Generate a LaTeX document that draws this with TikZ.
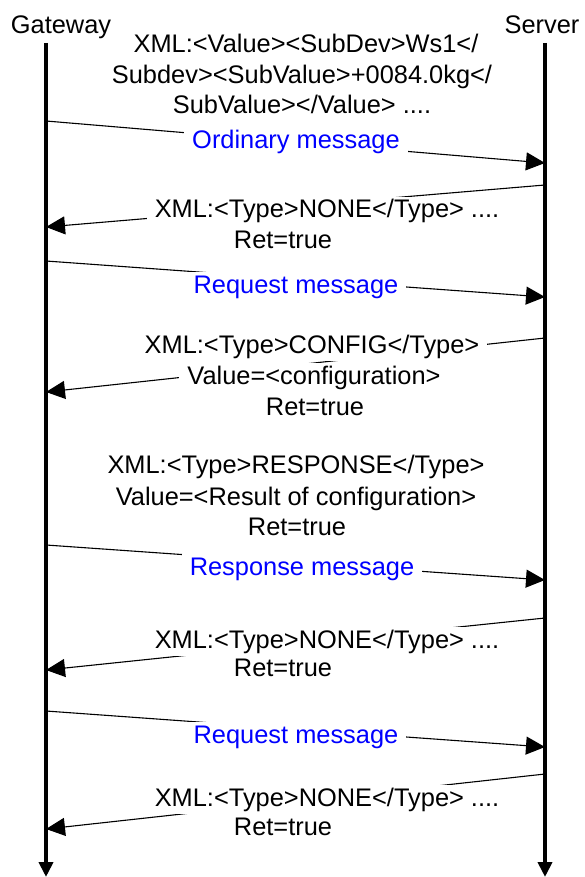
\documentclass[tikz,border=0pt]{standalone}
\usepackage{fontspec}
\setmainfont{Liberation Sans}
\usetikzlibrary{arrows.meta}
\newcommand\fsz{\fontsize{25.4}{30}\selectfont}
\definecolor{msgblue}{RGB}{0,0,255}
\begin{document}
\begin{tikzpicture}[x=1pt,y=-1pt,
  life/.style={line width=4pt,-{Triangle[length=15pt,width=14pt]}},
  msg/.style={line width=1.1pt,-{Triangle[length=19pt,width=18pt]}},
  lbl/.style={fill=white,inner xsep=8pt,inner ysep=2pt,text height=19pt,text depth=6pt,anchor=base,font=\fsz},
  plain/.style={inner sep=0pt,anchor=base,font=\fsz},
  blue/.style={text=msgblue}]
\fill[white] (0,0) rectangle (584,877);
\useasboundingbox (0,0) rectangle (584,877);
% actors
\node[plain] (gw) at (61,34) {Gateway};
\node[plain] (sv) at (542,34) {Server};
\coordinate (gtop) at (46,43);
\coordinate (gbot) at (46,877);
\coordinate (stop) at (545,43);
\coordinate (sbot) at (545,877);
\draw[life] (gtop) -- (gbot);
\draw[life] (stop) -- (sbot);
% message endpoints
\coordinate (g1) at (46,121);  \coordinate (s1) at (545,163);
\coordinate (s2) at (545,185); \coordinate (g2) at (46,227);
\coordinate (g3) at (46,261);  \coordinate (s3) at (545,297);
\coordinate (s4) at (545,338); \coordinate (g4) at (46,392);
\coordinate (g5) at (46,545);  \coordinate (s5) at (545,580);
\coordinate (s6) at (545,618); \coordinate (g6) at (46,670);
\coordinate (g7) at (46,711);  \coordinate (s7) at (545,747);
\coordinate (s8) at (545,774); \coordinate (g8) at (46,829);
\draw[msg] (g1) -- (s1);
\draw[msg] (s2) -- (g2);
\draw[msg] (g3) -- (s3);
\draw[msg] (s4) -- (g4);
\draw[msg] (g5) -- (s5);
\draw[msg] (s6) -- (g6);
\draw[msg] (g7) -- (s7);
\draw[msg] (s8) -- (g8);
% block 1
\node[lbl] (b1a) at (306,53) {XML:<Value><SubDev>Ws1</};
\node[lbl] (b1b) at (302,84) {Subdev><SubValue>+0084.0kg</};
\node[lbl] (b1c) at (302,114) {SubValue></Value> ....};
\node[lbl,blue] (l1) at (296,149) {Ordinary message};
% return 1
\node[lbl] (r1a) at (327,218) {XML:<Type>NONE</Type> ....};
\node[lbl] (r1b) at (283,248) {Ret=true};
\node[lbl,blue] (l3) at (296,293) {Request message};
% config
\node[lbl] (c1) at (312,353) {XML:<Type>CONFIG</Type>};
\node[lbl] (c2) at (314,384) {Value=<configuration>};
\node[lbl] (c3) at (315,415) {Ret=true};
% response text
\node[lbl] (p1) at (296,473) {XML:<Type>RESPONSE</Type>};
\node[lbl] (p2) at (296,505) {Value=<Result of configuration>};
\node[lbl] (p3) at (297,535) {Ret=true};
\node[lbl,blue] (l5) at (302,575) {Response message};
% return 3
\node[lbl] (r3a) at (327,648) {XML:<Type>NONE</Type> ....};
\node[lbl] (r3b) at (283,676) {Ret=true};
\node[lbl,blue] (l7) at (296,743) {Request message};
% return 4
\node[lbl] (r4a) at (327,806) {XML:<Type>NONE</Type> ....};
\node[lbl] (r4b) at (283,835) {Ret=true};
\end{tikzpicture}
\end{document}
